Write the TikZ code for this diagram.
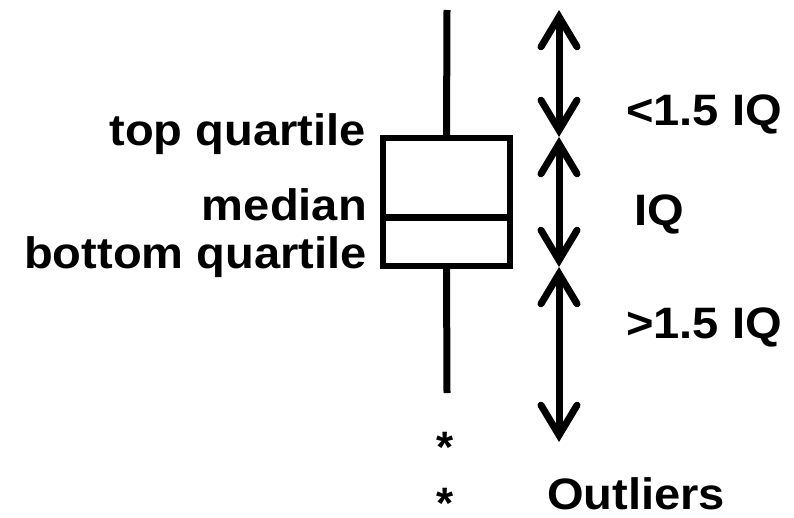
\documentclass[tikz,border=0pt]{standalone}
\usepackage{fontspec}
\setmainfont{Liberation Sans}
\usetikzlibrary{arrows.meta}
\newcommand\lbl[1]{\scalebox{1.07}[1]{#1}}
\newcommand\astk{\smash{\raisebox{-20pt}{*}}}
\begin{document}
\begin{tikzpicture}[x=1pt,y=-1pt,
  lab/.style={font=\fontsize{44}{52}\selectfont\bfseries, inner sep=0pt},
  whisk/.style={line width=7pt},
  dbl/.style={line width=7pt,
    {Straight Barb[length=30pt,width=36pt,line cap=round,line join=miter]}-{Straight Barb[length=30pt,width=36pt,line cap=round,line join=miter]}}]
\useasboundingbox (0,0) rectangle (794,517);
\node[draw, line width=6pt, minimum width=127pt, minimum height=128pt, inner sep=0pt, outer sep=0pt] (box) at (446.5,202) {};
\coordinate (wt) at (447,10);
\coordinate (wb) at (447,393);
\draw[whisk] (box.north) -- (wt);
\draw[whisk] (box.south) -- (wb);
\coordinate (ml) at (383,217);
\coordinate (mr) at (510,217);
\draw[line width=7pt] (ml) -- (mr);
\coordinate (a0) at (559,10);
\coordinate (a1) at (559,137);
\coordinate (a2) at (559,267);
\coordinate (a3) at (559,442);
\draw[dbl] (a0) -- (a1);
\draw[dbl] (a1) -- (a2);
\draw[dbl] (a2) -- (a3);
\node[lab, anchor=base east] (tq) at (366,145) {\lbl{top quartile}};
\node[lab, anchor=base east] (md) at (367,220) {\lbl{median}};
\node[lab, anchor=base east] (bq) at (367,268) {\lbl{bottom quartile}};
\node[lab, anchor=base west] (lt) at (626,125) {\lbl{<1.5 IQ}};
\node[lab, anchor=base west] (iq) at (634,225) {\lbl{IQ}};
\node[lab, anchor=base west] (gt) at (626,338) {\lbl{>1.5 IQ}};
\node[lab, anchor=base west] (ol) at (547,509) {\lbl{Outliers}};
\node[lab] (s1) at (445,442) {\astk};
\node[lab] (s2) at (445,498) {\astk};
\end{tikzpicture}
\end{document}
